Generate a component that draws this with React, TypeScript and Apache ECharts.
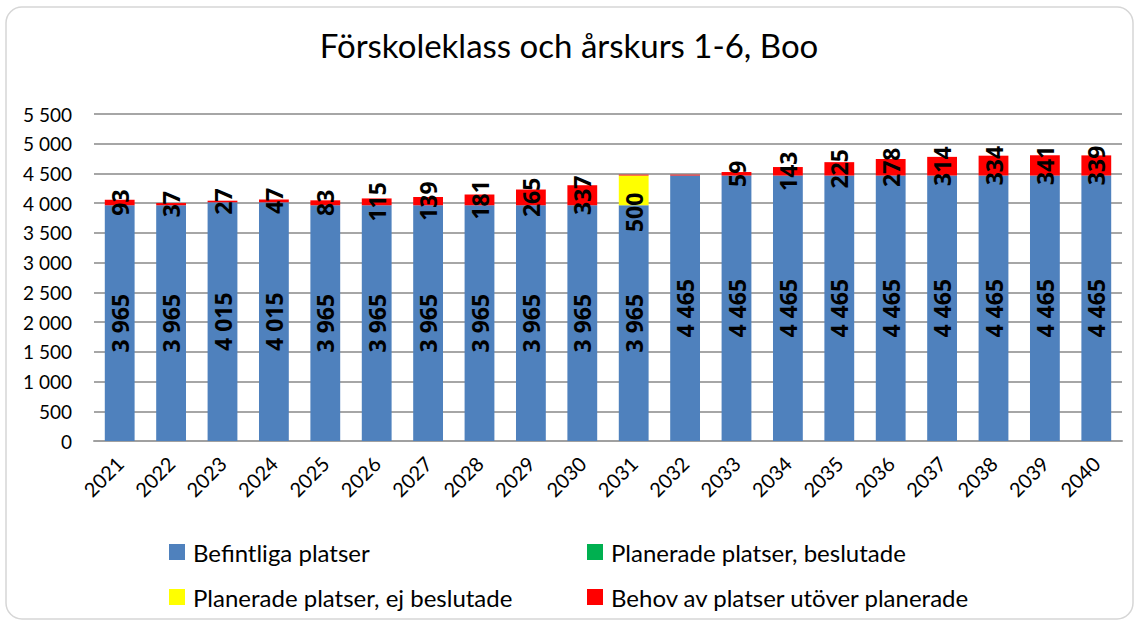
import React, { useEffect, useRef } from "react";
import * as echarts from "echarts";

const years = ["2021","2022","2023","2024","2025","2026","2027","2028","2029","2030","2031","2032","2033","2034","2035","2036","2037","2038","2039","2040"];
const befintliga = [3965,3965,4015,4015,3965,3965,3965,3965,3965,3965,3965,4465,4465,4465,4465,4465,4465,4465,4465,4465];
const beslutade = [0,0,0,0,0,0,0,0,0,0,0,0,0,0,0,0,0,0,0,0];
const ejBeslutade = [0,0,0,0,0,0,0,0,0,0,500,0,0,0,0,0,0,0,0,0];
const behov = [93,37,27,47,83,115,139,181,265,337,15,15,59,143,225,278,314,334,341,339];
const hiddenBehovLabels = ["2031","2032"];

const FONT = "Lato";
const LABEL_FONT = "Open Sans";
const fmt = (v: number) => String(v).replace(/\B(?=(\d{3})+(?!\d))/g, " ");

export default function App() {
  const ref = useRef<HTMLDivElement>(null);
  useEffect(() => {
    const chart = echarts.init(ref.current!, null, { renderer: "svg" });
    const labelBase = {
      show: true,
      rotate: 90,
      position: "inside",
      color: "#000",
      fontWeight: "bold",
      fontSize: 23,
      fontFamily: LABEL_FONT,
    };
    const legendItem = (name: string, left: number, top: number) => ({
      data: [name],
      left,
      top,
      itemWidth: 16,
      itemHeight: 16,
      itemGap: 0,
      icon: "rect",
      textStyle: { fontSize: 24, fontFamily: FONT, color: "#000", padding: [0, 0, 0, 3] },
      selectedMode: false,
    });
    chart.setOption({
      animation: false,
      textStyle: { fontFamily: FONT },
      graphic: [
        {
          type: "rect",
          shape: { x: 6, y: 7, width: 1127, height: 612, r: 16 },
          style: { fill: "none", stroke: "#d6d6d6", lineWidth: 1.5 },
          silent: true,
          z: -10,
        },
      ],
      title: {
        text: "Förskoleklass och årskurs 1-6, Boo",
        left: "center",
        top: 23,
        textStyle: { fontSize: 33, fontWeight: "normal", color: "#000", fontFamily: FONT },
      },
      legend: [
        legendItem("Befintliga platser", 164, 535),
        legendItem("Planerade platser, beslutade", 582, 535),
        legendItem("Planerade platser, ej beslutade", 164, 580),
        legendItem("Behov av platser utöver planerade", 582, 580),
      ],
      grid: { left: 94, right: 16, top: 114, bottom: 182 },
      xAxis: {
        type: "category",
        data: years,
        axisTick: { show: false },
        axisLine: { lineStyle: { color: "#a0a0a0", width: 2 } },
        axisLabel: { rotate: 45, fontSize: 20, color: "#000", fontFamily: FONT, margin: 19 },
      },
      yAxis: {
        type: "value",
        min: 0,
        max: 5500,
        interval: 500,
        axisLine: { show: false },
        axisTick: { show: false },
        splitLine: { lineStyle: { color: "#a6a6a6", width: 2 } },
        axisLabel: { fontSize: 19, color: "#000", fontFamily: FONT, margin: 22, formatter: (v: number) => fmt(v) },
      },
      series: [
        {
          name: "Befintliga platser",
          type: "bar",
          stack: "a",
          barWidth: "58%",
          data: befintliga,
          itemStyle: { color: "#4F81BD" },
          label: { ...labelBase, formatter: (p: any) => fmt(p.value) },
        },
        {
          name: "Planerade platser, beslutade",
          type: "bar",
          stack: "a",
          data: beslutade,
          itemStyle: { color: "#00B050" },
          label: { show: false },
        },
        {
          name: "Planerade platser, ej beslutade",
          type: "bar",
          stack: "a",
          data: ejBeslutade,
          itemStyle: { color: "#FFFF00" },
          label: { ...labelBase, offset: [-22, 0], formatter: (p: any) => (p.value ? String(p.value) : "") },
        },
        {
          name: "Behov av platser utöver planerade",
          type: "bar",
          stack: "a",
          data: behov,
          itemStyle: { color: "#FF0000" },
          label: {
            ...labelBase,
            formatter: (p: any) => (hiddenBehovLabels.includes(p.name) ? "" : String(p.value)),
          },
        },
      ],
    });
    return () => chart.dispose();
  }, []);
  return <div ref={ref} style={{ position: "fixed", left: 0, top: 0, width: 1138, height: 623, background: "#fff" }} />;
}
